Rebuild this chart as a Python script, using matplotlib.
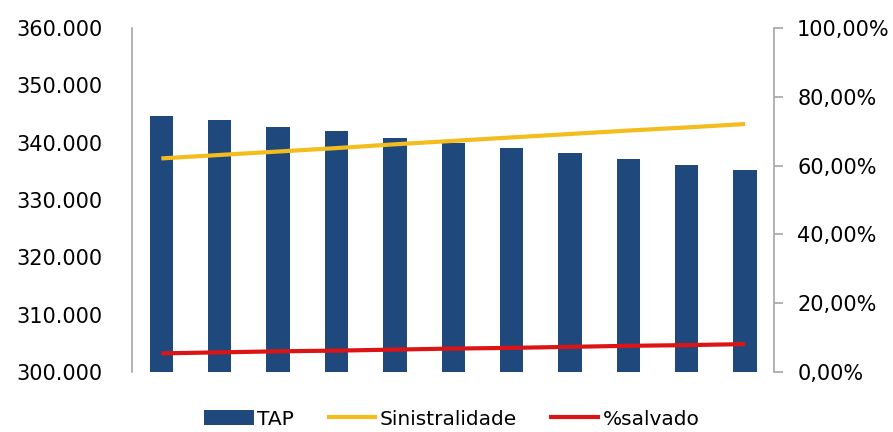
import matplotlib
matplotlib.use("Agg")
import matplotlib.pyplot as plt
from matplotlib.ticker import FuncFormatter, MultipleLocator

# --- dados ---
periodos = list(range(1, 12))
tap = [344700, 343900, 342800, 342000, 340900, 339900,
       339000, 338250, 337100, 336050, 335200]
sinistralidade = [62.1, 63.1, 64.1, 65.1, 66.2, 67.2,
                  68.2, 69.2, 70.2, 71.1, 72.1]
salvado = [5.4, 5.7, 6.0, 6.2, 6.5, 6.8, 7.0, 7.3, 7.6, 7.8, 8.1]

COR_TAP = "#1F497D"
COR_SIN = "#F2BD1D"
COR_SAL = "#DD1414"
COR_EIXO = "#A6A6A6"

plt.rcParams["font.family"] = "DejaVu Sans"

fig = plt.figure(figsize=(8.93, 4.32), dpi=100)
ax = fig.add_axes([0.148, 0.139, 0.719, 0.796])
ax2 = ax.twinx()

barras = ax.bar(periodos, tap, width=0.4, color=COR_TAP, label="TAP", zorder=2)
l1, = ax2.plot(periodos, sinistralidade, color=COR_SIN, lw=3, label="Sinistralidade",
               solid_capstyle="butt")
l2, = ax2.plot(periodos, salvado, color=COR_SAL, lw=3, label="%salvado",
               solid_capstyle="butt")

ax.set_xlim(0.5, 11.5)
ax.set_ylim(300000, 360000)
ax.yaxis.set_major_locator(MultipleLocator(10000))
ax.yaxis.set_major_formatter(FuncFormatter(lambda v, p: f"{v:,.0f}".replace(",", ".")))

ax2.set_ylim(0, 100)
ax2.yaxis.set_major_locator(MultipleLocator(20))
ax2.yaxis.set_major_formatter(FuncFormatter(lambda v, p: f"{v:.2f}%".replace(".", ",")))

for a in (ax, ax2):
    for s in a.spines.values():
        s.set_visible(False)
    a.set_xticks([])

ax.spines["left"].set_visible(True)
ax.spines["left"].set_color(COR_EIXO)
ax.spines["left"].set_linewidth(1.2)
ax.tick_params(axis="y", length=0, pad=21, labelsize=15, labelcolor="black")

ax2.spines["right"].set_visible(True)
ax2.spines["right"].set_color(COR_EIXO)
ax2.spines["right"].set_linewidth(1.2)
ax2.tick_params(axis="y", length=6.5, width=1.2, color=COR_EIXO, direction="out",
                pad=10, labelsize=15, labelcolor="black")

fig.legend(handles=[barras, l1, l2], loc="center", bbox_to_anchor=(0.506, 0.03),
           ncol=3, frameon=False, fontsize=14.5, handlelength=2.5, handletextpad=0.15,
           columnspacing=1.6)

fig.savefig("out.png", dpi=100)
